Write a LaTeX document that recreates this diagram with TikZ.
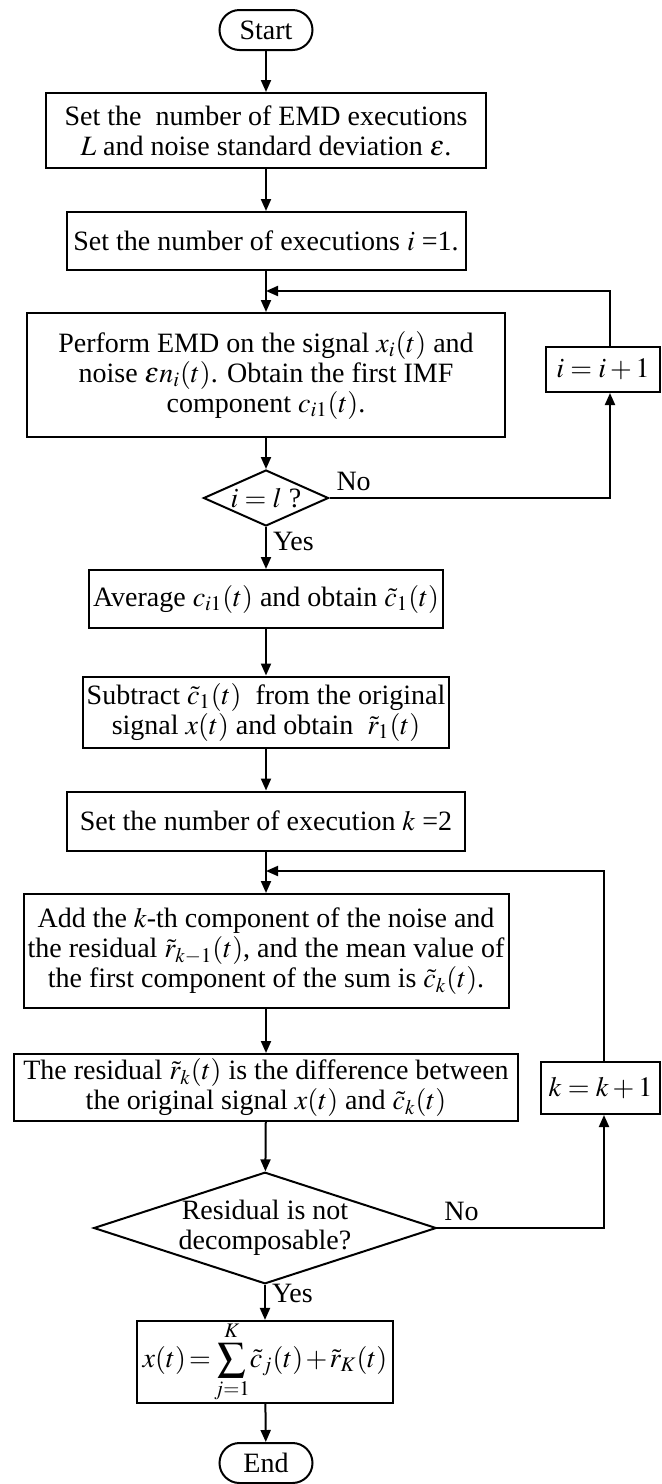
\documentclass[tikz,border=0pt]{standalone}
\usepackage{mathptmx}
\usepackage{fontspec}
\setmainfont{Liberation Serif}
\usetikzlibrary{shapes.geometric,arrows.meta}

\tikzset{
    stepbox/.style={draw, rectangle, line width=1pt, align=center, inner sep=2pt},
    term/.style={draw, rectangle, rounded corners=10pt, line width=1pt,
        minimum width=46.5pt, minimum height=20pt, inner sep=0pt},
    decision/.style={draw, diamond, line width=1pt, align=center, inner sep=0pt},
    flow/.style={line width=1pt, -{Triangle[length=6pt,width=5pt]}},
    tag/.style={inner sep=3pt},
}

\begin{document}
\begin{tikzpicture}[x=0.5pt, y=-0.5pt, font=\fontsize{14}{15}\selectfont]

        \useasboundingbox (0,0) rectangle (661,1484);

        % main column
        \node[term] (start) at (266,30) {Start};
        \node[stepbox, minimum width=220pt, minimum height=37.5pt] (setL) at (266,130.5)
            {Set the\ \ number of EMD executions\\ $L$ and noise standard deviation $\varepsilon$.};
        \node[stepbox, minimum width=199.5pt, minimum height=29pt] (setI) at (266,241)
            {Set the number of executions $i$ =1.};
        \coordinate (j1) at (266,291);
        \node[stepbox, minimum width=239pt, minimum height=62pt] (emd) at (266,375)
            {Perform EMD on the signal $x_i(t)$ and\\ noise $\varepsilon n_i(t)$. Obtain the first IMF\\ component $c_{i1}(t)$.};
        \node[decision, shape aspect=2.23, minimum width=62.5pt, minimum height=28pt] (d1) at (266,498) {$i=l$ ?};
        \node[stepbox, minimum width=57pt, minimum height=22.5pt] (iinc) at (603,369.5) {$i=i+1$};

        \node[stepbox, minimum width=176.5pt, minimum height=29pt] (avg) at (266,599)
            {Average $c_{i1}(t)$ and obtain $\tilde{c}_1(t)$};
        \node[stepbox, minimum width=181.5pt, minimum height=35.5pt] (sub) at (266,712)
            {Subtract $\tilde{c}_1(t)$\ \ from the original\\ signal $x(t)$ and obtain\ \ $\tilde{r}_1(t)$};
        \node[stepbox, minimum width=199pt, minimum height=29.5pt] (setK) at (266,821)
            {Set the number of execution $k$ =2};
        \coordinate (j2) at (266,871);
        \node[stepbox, minimum width=242.5pt, minimum height=57pt] (add) at (266,951)
            {Add the $k$-th component of the noise and\\ the residual $\tilde{r}_{k-1}(t)$, and the mean value of\\ the first component of the sum is $\tilde{c}_k(t)$.};
        \node[stepbox, minimum width=252pt, minimum height=33.5pt] (res) at (266,1087.5)
            {The residual $\tilde{r}_k(t)$ is the difference between\\ the original signal $x(t)$ and $\tilde{c}_k(t)$};
        \node[stepbox, minimum width=59.5pt, minimum height=26pt] (kinc) at (600.5,1088) {$k=k+1$};
        \node[decision, shape aspect=3.07, minimum width=169pt, minimum height=55pt] (d2) at (265,1228)
            {Residual is not\\ decomposable?};
        \node[stepbox, inner sep=0pt, minimum width=128pt, minimum height=38pt] (sum) at (265,1362)
            {\thickmuskip=2mu \medmuskip=1.5mu
             $\displaystyle x(t)=\sum_{j=1}^{K}\!\tilde{c}_j(t)+\tilde{r}_K(t)$};
        \node[term] (end) at (266,1463) {End};

        % connectors
        \draw[flow] (start) -- (setL);
        \draw[flow] (setL) -- (setI);
        \draw[flow] (setI) -- (emd);
        \draw[flow] (emd) -- (d1);
        \draw[flow] (d1) -- node[tag, right, pos=0.35] (yes1) {Yes} (avg);
        \draw[flow] (d1.east) node[tag, anchor=south west] (no1) {No}
            -| ([xshift=3.5pt]iinc.south);
        \draw[flow] ([xshift=3.5pt]iinc.north) |- (j1);

        \draw[flow] (avg) -- (sub);
        \draw[flow] (sub) -- (setK);
        \draw[flow] (setK) -- (add);
        \draw[flow] (add) -- (res);
        \draw[flow] (res) -- (d2);
        \draw[flow] (d2) -- node[tag, right, pos=0.25] (yes2) {Yes} (sum);
        \draw[flow] (d2.east) node[tag, anchor=south west] (no2) {No}
            -| ([xshift=1.75pt]kinc.south);
        \draw[flow] ([xshift=1.75pt]kinc.north) |- (j2);
        \draw[flow] (sum) -- (end);

\end{tikzpicture}
\end{document}
